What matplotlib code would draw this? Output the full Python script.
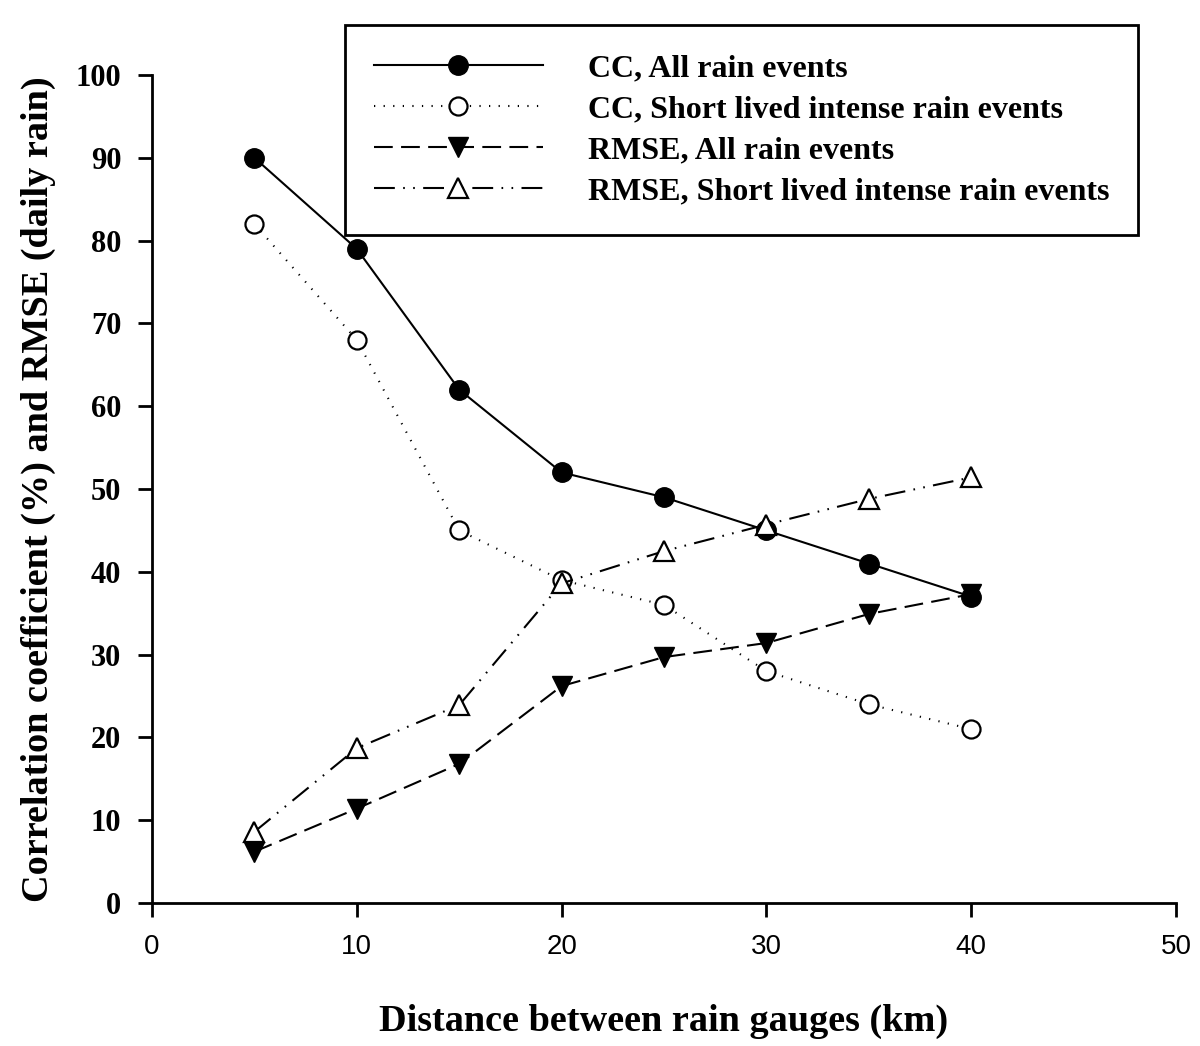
import matplotlib
matplotlib.use("Agg")
import matplotlib.pyplot as plt
from matplotlib.ticker import MultipleLocator

distance = [5, 10, 15, 20, 25, 30, 35, 40]
cc_all = [90, 79, 62, 52, 49, 45, 41, 37]
cc_short = [82, 68, 45, 39, 36, 28, 24, 21]
rmse_all = [6.2, 11.4, 16.8, 26.2, 29.7, 31.4, 34.9, 37.3]
rmse_short = [8.6, 18.7, 23.9, 38.6, 42.5, 45.7, 48.8, 51.4]

labels = ["CC, All rain events",
          "CC, Short lived intense rain events",
          "RMSE, All rain events",
          "RMSE, Short lived intense rain events"]

serif = "Liberation Serif"
sans = "Liberation Sans"

fig = plt.figure(figsize=(12, 10.46), dpi=100)
ax = fig.add_axes([152/1200, 1-903/1046, (1176-152)/1200, (903-75)/1046])

lw = 1.5
h1, = ax.plot(distance, cc_all, color="black", lw=lw, ls="-", marker="o",
              ms=14, mfc="black", mec="black", label=labels[0], zorder=3)
h2, = ax.plot(distance, cc_short, color="black", lw=lw, ls=(0, (0.6, 4)),
              marker="o", ms=13, mfc="white", mec="black", mew=1.6,
              label=labels[1], zorder=4)
h3, = ax.plot(distance, rmse_all, color="black", lw=lw, ls=(0, (9, 4)),
              marker="v", ms=14.5, mfc="black", mec="black",
              label=labels[2], zorder=5)
h4, = ax.plot(distance, rmse_short, color="black", lw=lw,
              ls=(0, (10, 4, 0.8, 4, 0.8, 4)), marker="^", ms=14.5,
              mfc="white", mec="black", mew=1.6, label=labels[3], zorder=6)

ax.set_xlim(0, 50)
ax.set_ylim(0, 100)
ax.xaxis.set_major_locator(MultipleLocator(10))
ax.yaxis.set_major_locator(MultipleLocator(10))
for s in ["top", "right"]:
    ax.spines[s].set_visible(False)
for s in ["left", "bottom"]:
    ax.spines[s].set_linewidth(2)
ax.tick_params(direction="out", length=10, width=2, pad=12)
for t in ax.get_xticklabels():
    t.set_fontfamily(sans)
    t.set_fontsize(20)
for t in ax.get_yticklabels():
    t.set_fontfamily(serif)
    t.set_fontweight("bold")
    t.set_fontsize(22)

ax.set_xlabel("Distance between rain gauges (km)", fontfamily=serif,
              fontweight="bold", fontsize=27.5, labelpad=32)
ax.set_ylabel("Correlation coefficient (%) and RMSE (daily rain)",
              fontfamily=serif, fontweight="bold", fontsize=27.5, labelpad=14)

leg = fig.legend(handles=[h1, h2, h3, h4], loc="upper left",
                 bbox_to_anchor=(345/1200, 1-25/1046),
                 prop={"family": serif, "weight": "bold", "size": 23},
                 numpoints=1, handlelength=5.3, handletextpad=1.4,
                 labelspacing=0.37, borderpad=0.9, borderaxespad=0,
                 fancybox=False, framealpha=1, edgecolor="black")
leg.get_frame().set_linewidth(2)

fig.savefig("out.png", dpi=100)
